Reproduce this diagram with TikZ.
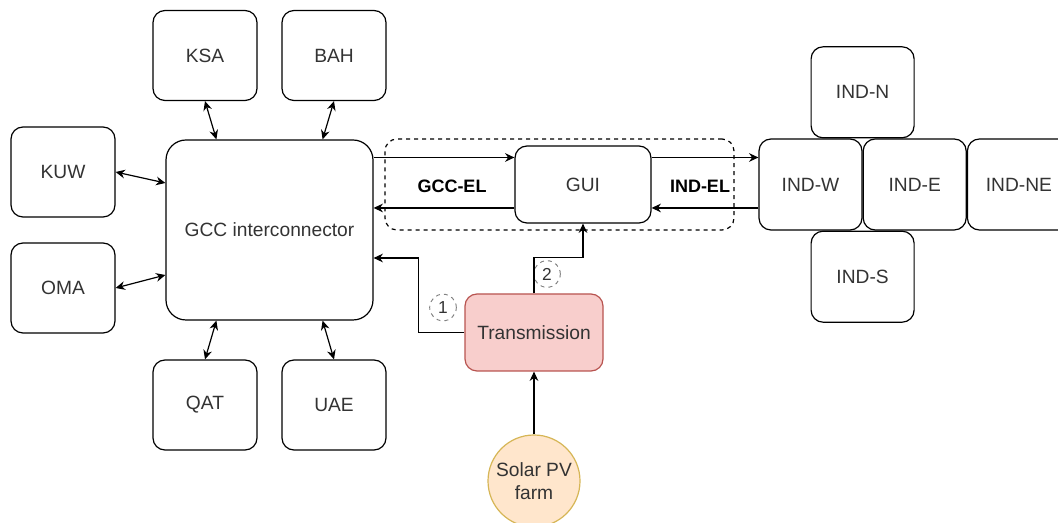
\documentclass[tikz,border=0pt]{standalone}
\usepackage{fontspec}
\setmainfont{Liberation Sans}
\usetikzlibrary{arrows.meta,positioning,calc}
\definecolor{transfill}{HTML}{F8CECC}
\definecolor{transline}{HTML}{B85450}
\definecolor{solarfill}{HTML}{FFE6CC}
\definecolor{solarline}{HTML}{D6B656}
\definecolor{inkgray}{HTML}{333333}

\begin{document}
\begin{tikzpicture}[
  x=0.75pt, y=-0.75pt,
  line width=0.9pt,
  box/.style={draw, rounded corners=9pt, align=center, inner sep=0pt, minimum width=78pt, minimum height=67.5pt, font=\fontsize{14.4}{17}\selectfont, text=inkgray},
  hub/.style={box, rounded corners=15pt, minimum width=155.25pt, minimum height=135pt},
  ind/.style={box, minimum width=77.25pt, minimum height=68.25pt},
  wide/.style={box, minimum width=102pt, minimum height=57.75pt},
  group/.style={draw, dashed, rounded corners=9pt, inner sep=0pt, minimum width=261.75pt, minimum height=68.25pt},
  tag/.style={circle, draw=gray, dashed, line width=0.7pt, inner sep=0pt, minimum size=20pt, font=\fontsize{13}{15}\selectfont, text=inkgray},
  lbl/.style={font=\bfseries\fontsize{13.5}{16}\selectfont},
  arr/.style={-{Stealth[length=7pt,width=6.5pt]}},
  biarr/.style={{Stealth[length=7pt,width=6.5pt]}-{Stealth[length=7pt,width=6.5pt]}}
]
  \useasboundingbox (0,0) rectangle (1058,523);

  \node[hub] (gcc) at (269.5,230) {GCC interconnector};
  \node[box] (ksa) at (205,55.5) {KSA};
  \node[box] (bah) at (334,55.5) {BAH};
  \node[box] (kuw) at (63,172) {KUW};
  \node[box] (oma) at (63,288) {OMA};
  \node[box] (qat) at (205,405) {QAT};
  \node[box] (uae) at (334,405) {UAE};

  \node[group] (elgroup) at (559.5,184.5) {};
  \node[wide] (gui) at (583,184.5) {GUI};
  \node[lbl] (gccel) at (452,186) {GCC-EL};
  \node[lbl] (indel) at (700,186) {IND-EL};

  \node[ind] (indw) at (810.5,184.5) {IND-W};
  \node[ind, right=0pt of indw] (inde) {IND-E};
  \node[ind, right=0pt of inde] (indne) {IND-NE};
  \node[ind, above=0pt of indw.north east] (indn) {IND-N};
  \node[ind, below=0pt of indw.south east] (inds) {IND-S};

  \node[wide, fill=transfill, draw=transline, minimum width=103.5pt] (trans) at (534,332.5) {Transmission};
  \node[box, circle, fill=solarfill, draw=solarline, minimum size=69pt] (solar) at (534,481) {Solar PV\\farm};
  \node[tag] (tagone) at (443,307.5) {1};
  \node[tag] (tagtwo) at (547,274) {2};

  \draw[biarr] (ksa.south) -- ($(gcc.north west)+(51,0)$);
  \draw[biarr] (bah.south) -- ($(gcc.north east)+(-51,0)$);
  \draw[biarr] (kuw.east) -- ($(gcc.west)+(0,-47)$);
  \draw[biarr] (oma.east) -- ($(gcc.west)+(0,45)$);
  \draw[biarr] (qat.north) -- ($(gcc.south west)+(51,0)$);
  \draw[biarr] (uae.north) -- ($(gcc.south east)+(-51,0)$);

  \draw[arr] ([yshift=20.25pt]gui.west -| gcc.east) -- ([yshift=20.25pt]gui.west);
  \draw[arr] ([yshift=-17.6pt]gui.west) -- ([yshift=-17.6pt]gui.west -| gcc.east);
  \draw[arr] ([yshift=20.25pt]gui.east) -- ([yshift=20.25pt]gui.east -| indw.west);
  \draw[arr] ([yshift=-17.6pt]indw.west) -- ([yshift=-17.6pt]gui.east);

  \draw[arr] (trans.west) -- ++(-46,0) |- ([yshift=-21pt]gcc.east);
  \draw[arr] (trans.north) -- ++(0,-36) -| (gui.south);
  \draw[arr] (solar) -- (trans);
\end{tikzpicture}
\end{document}
